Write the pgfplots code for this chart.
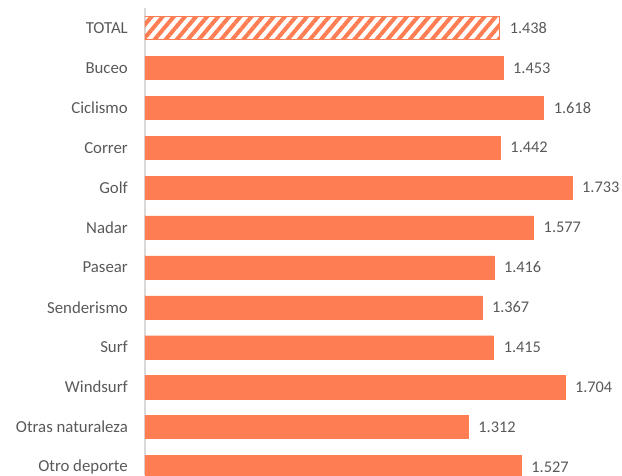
\documentclass[border=0pt]{standalone}
\usepackage{pgfplots}
\pgfplotsset{compat=1.18}
\usepackage{fontspec}
\setmainfont{Carlito}
\usetikzlibrary{patterns.meta}
\definecolor{coral}{RGB}{255,125,83}
\definecolor{txt}{RGB}{89,89,89}
\definecolor{axl}{RGB}{217,217,217}
\begin{document}
\begin{tikzpicture}[x=1pt,y=1pt]
\useasboundingbox (0,0) rectangle (622,475);
\begin{axis}[
  at={(145pt,0pt)}, anchor=south west,
  scale only axis, width=477pt, height=467pt,
  xbar, bar width=0.58,
  xmin=0, xmax=1936,
  ymin=-0.5, ymax=11.2, y dir=reverse,
  hide x axis,
  axis y line*=left,
  y axis line style={axl, line width=1.5pt, -},
  ytick={0,...,11},
  yticklabels={TOTAL,Buceo,Ciclismo,Correr,Golf,Nadar,Pasear,Senderismo,Surf,Windsurf,Otras naturaleza,Otro deporte},
  major tick length=0pt,
  yticklabel style={font=\fontsize{16.8}{18}\selectfont, text=txt, inner sep=0pt, xshift=-17pt},
  clip mode=individual,
  nodes near coords,
  point meta=x,
  every node near coord/.append style={font=\fontsize{16.3}{18}\selectfont, text=txt, inner sep=0pt, xshift=10pt, anchor=west,
    /pgf/number format/.cd, 1000 sep={.}, assume math mode=true},
]
\addplot[bar shift=0pt, draw=coral, line width=1pt, pattern={Lines[angle=50,distance=8.5pt,line width=4pt]}, pattern color=coral]
  coordinates {(1438,0)};
\addplot[bar shift=0pt, draw=coral, fill=coral]
  coordinates {(1453,1) (1618,2) (1442,3) (1733,4) (1577,5) (1416,6) (1367,7) (1415,8) (1704,9) (1312,10) (1527,11)};
\end{axis}
\end{tikzpicture}
\end{document}
